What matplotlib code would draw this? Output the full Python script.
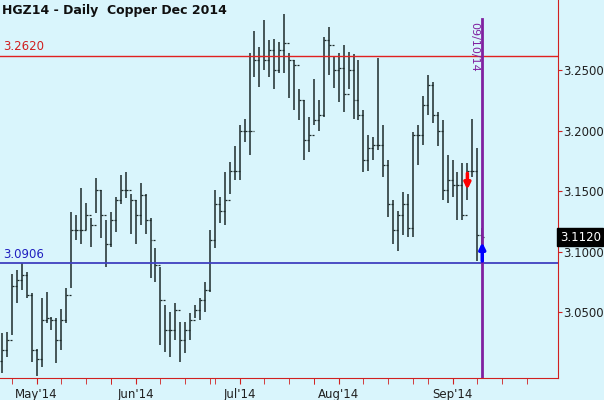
import matplotlib
matplotlib.use("Agg")
import matplotlib.pyplot as plt
from matplotlib.ticker import FixedLocator

highs = [3.033,3.034,3.082,3.085,3.091,3.083,3.066,3.020,3.062,3.067,3.046,3.045,3.053,3.070,3.133,3.130,3.153,3.140,3.128,3.161,
         3.151,3.126,3.133,3.145,3.163,3.166,3.148,3.143,3.157,3.148,3.128,3.103,3.087,3.056,3.050,3.058,3.042,3.042,3.049,3.056,
         3.062,3.075,3.118,3.151,3.145,3.166,3.174,3.187,3.205,3.210,3.264,3.282,3.269,3.291,3.275,3.276,3.273,3.296,3.264,3.258,
         3.234,3.225,3.211,3.243,3.225,3.277,3.286,3.261,3.264,3.271,3.265,3.263,3.258,3.217,3.196,3.195,3.260,3.205,3.176,3.143,
         3.134,3.149,3.148,3.199,3.205,3.229,3.246,3.240,3.215,3.209,3.180,3.176,3.166,3.173,3.173,3.210,3.186,3.120]
lows = [3.000,3.013,3.031,3.058,3.068,3.062,3.009,2.997,3.005,3.041,3.035,3.008,3.019,3.041,3.070,3.110,3.106,3.118,3.104,3.132,
        3.111,3.087,3.104,3.116,3.139,3.144,3.115,3.106,3.122,3.115,3.078,3.075,3.023,3.017,3.013,3.027,3.009,3.016,3.027,3.045,
        3.044,3.050,3.067,3.103,3.124,3.122,3.148,3.159,3.159,3.191,3.180,3.244,3.236,3.250,3.244,3.234,3.248,3.248,3.227,3.217,
        3.209,3.176,3.182,3.205,3.200,3.211,3.246,3.235,3.224,3.215,3.234,3.210,3.209,3.166,3.167,3.176,3.184,3.162,3.129,3.106,
        3.101,3.114,3.112,3.112,3.172,3.188,3.213,3.206,3.187,3.143,3.140,3.145,3.126,3.126,3.143,3.162,3.092,3.092]
closes = [3.019,3.027,3.072,3.077,3.081,3.064,3.019,3.011,3.044,3.045,3.044,3.027,3.044,3.064,3.118,3.118,3.118,3.130,3.122,3.151,
          3.130,3.106,3.126,3.143,3.151,3.151,3.143,3.130,3.147,3.126,3.110,3.089,3.060,3.035,3.035,3.052,3.027,3.035,3.044,3.052,
          3.060,3.068,3.110,3.139,3.134,3.143,3.167,3.167,3.200,3.200,3.200,3.258,3.262,3.258,3.267,3.250,3.267,3.272,3.258,3.254,
          3.225,3.192,3.196,3.209,3.213,3.275,3.271,3.250,3.252,3.230,3.250,3.225,3.213,3.176,3.186,3.188,3.188,3.172,3.139,3.118,
          3.130,3.139,3.120,3.196,3.196,3.221,3.238,3.213,3.200,3.151,3.159,3.155,3.155,3.130,3.167,3.167,3.114,3.112]
opens = [3.010] + closes[:-1]
month_pos = [7, 27, 48, 68, 91]
month_labels = ["May'14", "Jun'14", "Jul'14", "Aug'14", "Sep'14"]
resistance = 3.2620
support = 3.0906
last_price = 3.1120
marker_date = "09/10/14"

bg = "#d9f5fc"
fig = plt.figure(figsize=(6.04, 4.0), dpi=100, facecolor=bg)
ax = fig.add_axes([0, 0.055, 558/604, 0.945], facecolor=bg)
n = len(highs)
xs = list(range(n))
bc = "#1c2a2a"
ax.vlines(xs, lows, highs, color=bc, lw=1.1)
ax.hlines(opens, [x - 0.4 for x in xs], xs, color=bc, lw=0.9)
ax.hlines(closes, xs, [x + 0.4 for x in xs], color=bc, lw=0.9)

ax.axhline(resistance, color="#e02020", lw=1)
ax.axhline(support, color="#4040c0", lw=1.3)
ax.text(0.2, resistance + 0.002, f"{resistance:.4f}", color="#d02020", fontsize=8.5, va="bottom")
ax.text(0.2, support + 0.002, f"{support:.4f}", color="#2020c0", fontsize=8.5, va="bottom")
ax.axvline(n - 1, ymax=0.95, color="#8020a0", lw=2)
ax.text(n - 2.6, 3.290, marker_date, rotation=270, color="#8020a0", fontsize=8, va="top", ha="center")
ax.annotate("", xy=(94, 3.149), xytext=(94, 3.167),
            arrowprops=dict(arrowstyle="-|>", color="red", lw=2.5, mutation_scale=9))
ax.annotate("", xy=(n - 1, 3.110), xytext=(n - 1, 3.090),
            arrowprops=dict(arrowstyle="-|>", color="blue", lw=2.5, mutation_scale=9))

ax.set_xlim(-0.4, 112.3)
ax.set_ylim(2.9957, 3.3079)
ax.yaxis.tick_right()
ax.set_yticks([3.05, 3.10, 3.15, 3.20, 3.25])
ax.set_yticklabels(["3.0500", "3.1000", "3.1500", "3.2000", "3.2500"])
ax.tick_params(axis="y", colors="#202020", labelsize=8.5, length=3, pad=1, direction="out", color="#d02020")
ax.set_xticks(month_pos)
ax.set_xticklabels(month_labels)
ax.xaxis.set_minor_locator(FixedLocator([p + 5 * k for p in month_pos for k in range(-1, 4)]))
ax.tick_params(axis="x", which="both", labelsize=8.5, colors="#202020", color="#d02020", length=4)
for s in ["top", "left"]:
    ax.spines[s].set_visible(False)
ax.spines["right"].set_color("#d02020")
ax.spines["bottom"].set_color("#d02020")
ax.text(1.003, last_price, f"{last_price:.4f}", transform=ax.get_yaxis_transform(), color="white",
        fontsize=8.5, va="center", ha="left", bbox=dict(boxstyle="square,pad=0.2", fc="black", ec="black"))
fig.text(0.003, 0.99, "HGZ14 - Daily  Copper Dec 2014", fontsize=9, fontweight="bold", va="top", color="#101010")
fig.savefig("out.png", dpi=100, facecolor=bg)
